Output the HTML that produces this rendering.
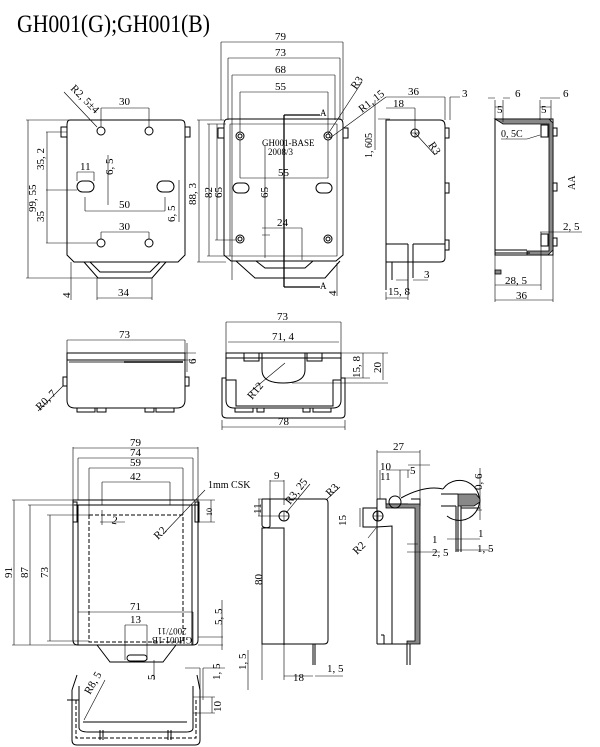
<!DOCTYPE html>
<html><head><meta charset="utf-8"><style>
body{margin:0;background:#fff;width:600px;height:747px;overflow:hidden}
svg{display:block}
text{font-family:"Liberation Serif",serif;font-size:11px;fill:#000}
.l{stroke:#000;stroke-width:1;fill:none}
.t{stroke:#000;stroke-width:0.6;fill:none}
.d{stroke:#000;stroke-width:1;fill:none;stroke-dasharray:4 2}
.h{fill:#888;stroke:#000;stroke-width:0.8}
</style></head><body>
<svg width="600" height="747" viewBox="0 0 600 747" xmlns="http://www.w3.org/2000/svg">
<text x="17" y="32" style="font-size:25px" textLength="193" lengthAdjust="spacingAndGlyphs">GH001(G);GH001(B)</text>

<!-- VIEW 1 back -->
<g>
<path class="l" d="M70,120 H181 Q185,120 185,125 V255 L178,262 H74 L67,255 V125 Q67,120 70,120Z"/>
<rect class="l" x="61" y="127" width="6" height="10"/><rect class="l" x="185" y="127" width="5" height="10"/>
<path class="l" d="M84,262 L98,278 H152 L166,262"/><path class="l" d="M90,262 L100,272 H150 L160,262"/>
<circle class="l" cx="101" cy="131" r="4"/><circle class="l" cx="149" cy="131" r="4"/>
<circle class="l" cx="101" cy="243" r="4"/><circle class="l" cx="149" cy="243" r="4"/>
<rect class="l" x="77" y="181" width="17" height="11" rx="5.5"/><rect class="l" x="157" y="181" width="17" height="11" rx="5.5"/>
<path class="t" d="M26,120 H70 M26,278 H100 M28,120 V278 M46,132 H67 M46,190 H77 M46,243 H97 M47,132 V243"/>
<text x="0" y="0" transform="translate(36,212) rotate(-90)">99, 55</text>
<text transform="translate(44,170) rotate(-90)">35, 2</text>
<text transform="translate(44,222) rotate(-90)">35</text>
<path class="t" d="M101,108 V127 M149,108 V127 M101,108 H149 M101,232 H149 M101,232 V239 M149,232 V239 M77,172 V181 M94,172 V181 M77,172 H94 M85,197 V211 M165,197 V211 M85,211 H165 M108,155 V205 M179,180 V222"/>
<text x="119" y="105">30</text><text x="119" y="230">30</text><text x="80" y="170">11</text><text x="119" y="208">50</text>
<text transform="translate(113,175) rotate(-90)">6, 5</text><text transform="translate(175,222) rotate(-90)">6, 5</text>
<text transform="translate(70,89) rotate(45)">R2, 5±4</text><path class="t" d="M64,92 L97,127"/>
<path class="t" d="M71,262 V300 M97,278 V300 M152,278 V300 M97,298 H152"/>
<text transform="translate(70,298) rotate(-90)">4</text><text x="118" y="296">34</text>
<path class="t" d="M197,120 H224 M197,262 H226 M199,120 V262"/>
<text transform="translate(196,205) rotate(-90)">88, 3</text>
</g>

<!-- VIEW 2 front -->
<g>
<path class="l" d="M228,119 H339 Q343,119 343,124 V255 L336,261 H231 L224,255 V124 Q224,119 228,119Z"/>
<path class="t" d="M230,124 H337 V256 H230Z"/>
<rect class="l" x="218" y="128" width="6" height="10"/><rect class="l" x="343" y="128" width="5" height="10"/>
<path class="l" d="M236,261 L255,278 H325 L340,261"/><path class="l" d="M256,261 L265,268 H305 L313,261"/>
<g class="l"><circle cx="240" cy="136" r="4"/><circle cx="240" cy="136" r="2"/><circle cx="328" cy="136" r="4"/><circle cx="328" cy="136" r="2"/><circle cx="240" cy="239" r="4"/><circle cx="240" cy="239" r="2"/><circle cx="328" cy="239" r="4"/><circle cx="328" cy="239" r="2"/></g>
<rect class="l" x="233" y="183" width="16" height="10" rx="5"/><rect class="l" x="316" y="183" width="16" height="10" rx="5"/>
<path class="t" d="M221,42 V120 M343,42 V120 M221,42 H343 M228,58 V120 M340,58 V120 M228,58 H340 M232,75 V280 M335,75 V120 M232,75 H335 M240,92 V132 M328,92 V132 M240,92 H328 M240,178 H328 M240,140 V178 M328,140 V178 M265,145 V235 M262,228 H302 M265,228 V258 M302,228 V260 M262,235 H270"/>
<text x="275" y="40">79</text><text x="275" y="56">73</text><text x="275" y="73">68</text><text x="275" y="90">55</text><text x="278" y="176">55</text><text x="277" y="226">24</text>
<path class="l" d="M284,115 V287 M284,115 H320 M284,287 H320" style="stroke-width:1.3"/>
<text x="320" y="116" style="font-size:9px">A</text><text x="320" y="289" style="font-size:9px">A</text>
<text x="262" y="146" style="font-size:9px">GH001-BASE</text><text x="268" y="155" style="font-size:9px">2008/3</text>
<path class="t" d="M207,124 H226 M207,256 H230 M209,124 V256 M217,124 V240 M215,240 H236"/>
<text transform="translate(212,198) rotate(-90)">82</text><text transform="translate(222,198) rotate(-90)">65</text><text transform="translate(268,198) rotate(-90)">65</text>
<path class="t" d="M337,263 V296"/><text transform="translate(336,296) rotate(-90)">4</text>
<path class="t" d="M328,134 L362,82 M330,138 L386,97"/>
<text transform="translate(356,90) rotate(-55)">R3</text><text transform="translate(362,113) rotate(-38)">R1, 15</text>
</g>

<!-- VIEW 3 side -->
<g>
<path class="l" d="M386,120 H440 Q445,120 445,126 V258 Q445,262 440,262 H386Z"/>
<rect class="l" x="445" y="128" width="4" height="10"/><rect class="l" x="445" y="183" width="4" height="10"/><rect class="l" x="445" y="240" width="4" height="10"/>
<path class="l" d="M386,244 H408 M413,244 H445 M408,244 V290 M413,244 V278 M386,262 V290 M392,262 V280"/>
<circle class="l" cx="415" cy="133" r="4"/><path class="t" d="M410,133 H420 M415,128 V138 M415,133 L435,155"/>
<text transform="translate(428,145) rotate(55)">R3</text>
<path class="t" d="M386,97 H445 M445,97 V120 M450,97 V120 M450,97 H460 M386,108 H415 M415,108 V128 M378,119 H390 M375,150 V100"/>
<text x="408" y="95">36</text><text x="462" y="97">3</text><text x="393" y="107">18</text>
<text transform="translate(372,158) rotate(-90)" style="font-size:10px">1, 605</text>
<path class="t" d="M396,280 H408 M413,280 H428 M386,292 V300 M408,292 V300 M386,298 H408"/>
<text x="424" y="278">3</text><text x="388" y="295">15, 8</text>
</g>

<!-- VIEW 4 section -->
<g>
<path class="l" d="M495,119 V255 H553 V119 H495"/>
<path class="h" d="M495,119 H549 L553,123 V250 L548,255 H527 V251 H549 V124 H503 L500,122Z"/>
<rect class="l" x="541" y="125" width="7" height="12"/><rect class="l" x="541" y="234" width="7" height="12"/>
<rect class="l" x="553" y="128" width="4" height="8"/><rect class="l" x="553" y="183" width="4" height="8"/><rect class="l" x="553" y="238" width="4" height="8"/>
<path class="l" d="M495,250 H527 M495,253 H530"/><rect class="h" x="495" y="270" width="6" height="4"/>
<path class="t" d="M495,100 V120 M503,100 V122 M495,107 H503 M540,100 V120 M551,100 V122 M540,107 H551 M540,98 H560 M488,98 H495 M503,98 H510"/>
<text x="515" y="97">6</text><text x="563" y="97">6</text><text x="497" y="113">5</text><text x="541" y="113">5</text>
<path class="t" d="M501,139 H527 L540,135"/><text x="501" y="137" style="font-size:10px">0, 5C</text>
<text transform="translate(575,190) rotate(-90)" style="font-size:10px">AA</text>
<path class="t" d="M540,232 H553 M553,232 H582 M541,232 V290"/><text x="563" y="230">2, 5</text>
<path class="t" d="M495,285 H541 M495,255 V302 M553,255 V302 M495,300 H553"/>
<text x="505" y="284">28, 5</text><text x="516" y="299">36</text>
</g>

<!-- VIEW 5 -->
<g>
<path class="l" d="M67,353 H185 V400 Q185,408 177,408 H75 Q67,408 67,400Z"/>
<path class="l" d="M67,360 H185"/><path class="l" d="M69,362 H124" style="stroke:#777;stroke-width:1.5"/><path class="l" d="M124,362 H183" style="stroke-width:1.5"/>
<rect class="l" x="63" y="377" width="4" height="9"/><rect class="l" x="185" y="377" width="4" height="9"/>
<g class="l"><rect x="77" y="408" width="18" height="4"/><rect x="97" y="408" width="9" height="4"/><rect x="145" y="408" width="9" height="4"/><rect x="156" y="408" width="18" height="4"/></g>
<path class="t" d="M67,340 H185 M67,340 V353 M185,340 V353 M187,343 V372 M185,353 H196 M185,360 H196"/>
<text x="119" y="338">73</text><text transform="translate(196,364) rotate(-90)">6</text>
<path class="t" d="M38,411 L63,386"/><text transform="translate(40,411) rotate(-45)">R0, 7</text>
</g>

<!-- VIEW 6 -->
<g>
<path class="l" d="M226,353 H341 V400 Q341,408 333,408 H234 Q226,408 226,400Z"/>
<path class="l" d="M226,358 H341"/>
<rect class="l" x="244" y="353" width="15" height="8"/><rect class="l" x="307" y="353" width="15" height="8"/>
<path class="l" d="M262,353 V370 Q262,383 283,383 Q305,383 305,370 V353"/>
<path class="l" d="M226,378 H222 V414 Q222,418 227,418 H341 Q345,418 345,414 V378 H341 M226,380 H236 V406 H333 V380 H341"/>
<g class="l"><rect x="235" y="408" width="18" height="4"/><rect x="257" y="408" width="7" height="4"/><rect x="303" y="408" width="7" height="4"/><rect x="313" y="408" width="18" height="4"/></g>
<path class="t" d="M226,322 H341 M226,322 V353 M341,322 V353 M228,342 H339"/>
<text x="277" y="320">73</text><text x="272" y="340">71, 4</text>
<path class="t" d="M341,353 H388 M341,378 H370 M363,353 V378 M383,353 V380 M292,383 H388"/>
<text transform="translate(360,378) rotate(-90)">15, 8</text><text transform="translate(381,373) rotate(-90)">20</text>
<path class="t" d="M222,420 V430 M345,420 V430 M222,427 H345"/><text x="278" y="425">78</text>
<path class="t" d="M250,392 L285,363"/><text transform="translate(252,400) rotate(-50)">R12</text>
</g>

<!-- VIEW 7 -->
<g>
<path class="l" d="M74,500 H198 V640 Q198,645 193,645 H78 Q73,645 73,640 V500Z"/>
<path class="l" d="M74,505 H198 M78,505 V645 M192,505 V645"/>
<rect class="l" x="73" y="502" width="4" height="20"/><rect class="l" x="195" y="502" width="4" height="20"/>
<rect class="d" x="89" y="515" width="94" height="127"/>
<path class="l" d="M97,645 L110,662 H163 L176,645"/>
<rect class="l" x="127" y="655" width="20" height="6" rx="3"/>
<path class="t" d="M73,447 V500 M198,447 V500 M73,448 H198 M78,458 H193 M78,458 V500 M193,458 V500 M89,468 H183 M89,468 V515 M183,468 V515 M102,482 H170 M102,482 V505 M170,482 V505"/>
<text x="130" y="446">79</text><text x="130" y="456">74</text><text x="130" y="466">59</text><text x="130" y="480">42</text>
<path class="t" d="M12,500 H74 M28,505 H78 M47,515 H89 M14,500 V645 M30,505 V645 M50,515 V641 M12,645 H73 M28,645 H78 M47,641 H89"/>
<text transform="translate(12,578) rotate(-90)">91</text><text transform="translate(28,578) rotate(-90)">87</text><text transform="translate(48,578) rotate(-90)">73</text>
<path class="t" d="M100,522 H125 M102,510 V525"/><text x="112" y="524" transform="rotate(10 115 520)">2</text>
<path class="t" d="M165,532 L205,490"/><text x="208" y="488" style="font-size:10px">1mm CSK</text>
<text transform="translate(158,540) rotate(-45)">R2</text>
<path class="t" d="M198,500 H215 M198,522 H215 M211,500 V522"/><text transform="translate(212,516) rotate(-90)" style="font-size:8px">10</text>
<path class="t" d="M78,612 H193 M78,612 V645 M193,612 V645 M125,625 H147 M125,625 V660 M147,625 V660"/>
<text x="130" y="610">71</text><text x="130" y="623">13</text>
<text x="172" y="634" text-anchor="middle" transform="rotate(180 172 631)" style="font-size:9px">2007/11</text>
<text x="172" y="643" text-anchor="middle" transform="rotate(180 172 640)" style="font-size:9px">GH001-1B</text>
<path class="t" d="M198,637 H223 M198,645 H223 M222,600 V650 M154,660 V680"/>
<text transform="translate(222,625) rotate(-90)">5, 5</text><text transform="translate(155,680) rotate(-90)">5</text>
<path class="t" d="M185,668 H200 M200,668 V700 M203,668 V700 M203,668 H225 M248,650 V690"/>
<text transform="translate(220,680) rotate(-90)">1, 5</text><text transform="translate(246,670) rotate(-90)">1, 5</text>
<path class="l" d="M72,690 V740 Q72,745 77,745 H195 Q200,745 200,740 V690 M79,686 V728 Q80,732 88,732 H186 Q193,732 193,728 V686"/>
<path class="d" d="M76,700 V738 H196 V700"/>
<path class="l" d="M83,722 H187 M100,730 V740 M103,730 V740 M168,730 V740 M171,730 V740"/>
<path class="l" d="M72,690 L77,675 M200,690 L197,675 M67,700 H79"/>
<path class="t" d="M84,720 L105,680"/><text transform="translate(90,695) rotate(-60)">R8, 5</text>
<path class="t" d="M193,697 H215 M193,713 H215 M212,697 V713"/><text transform="translate(221,712) rotate(-90)">10</text>
</g>

<!-- VIEW 8 -->
<g>
<path class="l" d="M262,499 H325 Q328,499 328,503 V640 Q328,644 324,644 H262 V528 Q270,528 270,526 V499"/>
<path class="l" d="M262,499 Q262,499 262,502 V525 Q262,528 270,528 H284 V645"/>
<circle class="l" cx="284" cy="516" r="5"/><path class="t" d="M279,516 H289 M284,511 V521"/>
<path class="l" d="M313,644 V665 M315,644 V665"/>
<path class="t" d="M270,480 V499 M284,480 V505 M270,481 H284"/><text x="274" y="479">9</text>
<path class="t" d="M258,499 H270 M258,516 H280 M259,499 V516"/><text transform="translate(261,514) rotate(-90)">11</text>
<path class="t" d="M286,513 L310,484"/><text transform="translate(290,505) rotate(-52)">R3, 25</text>
<path class="t" d="M326,500 L340,487"/><text transform="translate(330,497) rotate(-45)">R3</text>
<path class="t" d="M262,644 V680"/><text transform="translate(262,585) rotate(-90)">80</text>
<path class="t" d="M284,644 V680 M284,676 H313 M315,676 H343"/><text x="293" y="681">18</text><text x="327" y="672">1, 5</text>
</g>

<!-- VIEW 9 -->
<g>
<path class="l" d="M377,644 V499 M384,644 H377 M384,644 V635 M384,635 L381,635"/>
<path class="l" d="M377,499 V527 H363 V508 H377 M377,527 L392,526 V644"/>
<path class="l" d="M377,499 H386 V504 H408 M411,499 H420 V506"/>
<path class="h" d="M386,504 H420 V644 L414,644 L407,644 V641 H415 V508 H386Z"/>
<path class="l" d="M384,644 H407 M407,644 V665 M410,644 V665"/>
<circle class="l" cx="395" cy="502" r="6"/><circle class="l" cx="378" cy="516" r="5"/><path class="t" d="M373,516 H383 M378,511 V521"/>
<path class="l" d="M401,498 Q425,485 443,489"/>
<path class="l" d="M443,489 A20,20 0 1,1 447,516"/>
<path class="l" d="M441,494 H458 M441,506 H456"/>
<path class="h" d="M458,494 L476,494 L480,499 L480,502 L474,506 L458,506Z"/>
<path class="l" d="M456,506 V552 M461,506 V552 M458,506 V552 M461,508 H480"/>
<path class="t" d="M377,450 V499 M420,450 V499 M377,452 H420 M380,470 V499 M395,470 H410 M400,470 V497 M386,470 H403 M408,465 H430 M420,465 V478 M408,470 V478"/>
<text x="393" y="450">27</text><text x="380" y="470">10</text><text x="380" y="480">11</text><text x="410" y="474">5</text>
<path class="t" d="M480,468 V520 M476,510 H482"/><text transform="translate(482,490) rotate(-90)">0, 6</text>
<path class="t" d="M447,539 H480 M456,550 H490 M407,544 H418 M407,552 H440"/>
<text x="478" y="537">1</text><text x="477" y="552">1, 5</text><text x="432" y="543">1</text><text x="432" y="556">2, 5</text>
<path class="t" d="M368,538 L376,528"/><text transform="translate(357,555) rotate(-45)">R2</text>
<path class="t" d="M360,508 V527"/><text transform="translate(346,526) rotate(-90)">15</text>
</g>
</svg>
</body></html>
